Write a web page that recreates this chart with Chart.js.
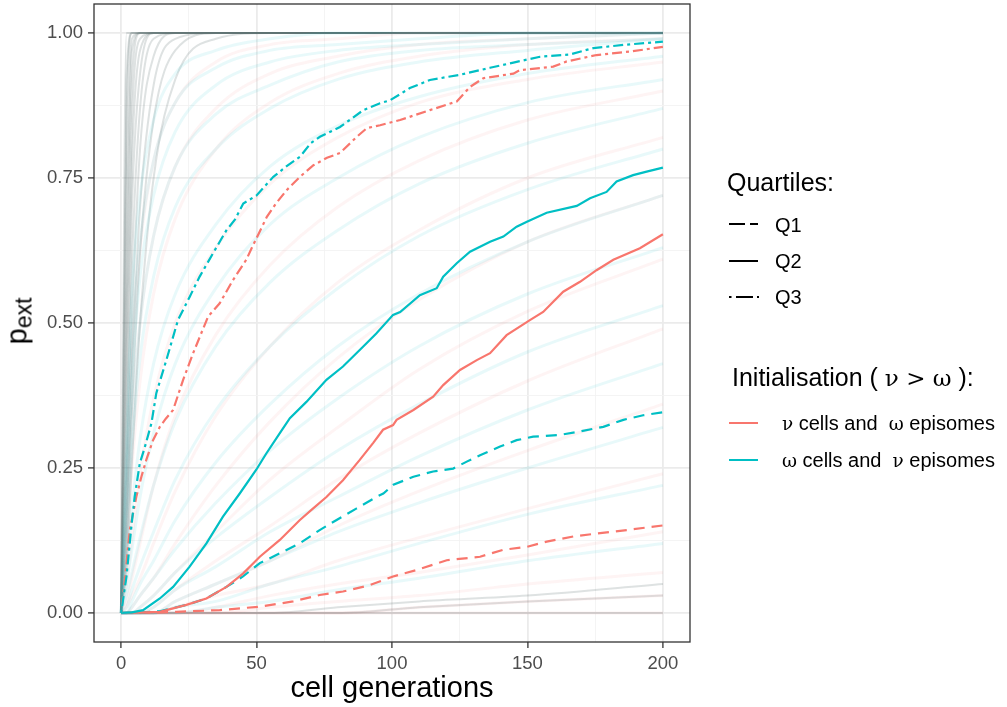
<!DOCTYPE html>
<html>
<head>
<meta charset="utf-8">
<script src="https://cdn.jsdelivr.net/npm/chart.js@4.4.1/dist/chart.umd.min.js"></script>
<style>
body { margin: 0; background: #fff; }
#wrap { position: relative; width: 1007px; height: 707px; font-family: "Liberation Sans", Arial, sans-serif; color: #000; }
#wrap canvas { position: absolute; left: 0; top: 0; }
.lab { position: absolute; white-space: nowrap; line-height: 1; }
.gr { font-family: "DejaVu Serif", "Liberation Serif", serif; font-size: 0.92em; }
svg.key { position: absolute; overflow: visible; }
</style>
</head>
<body>
<div id="wrap">
  <canvas id="chart" width="1007" height="707"></canvas>

  <div class="lab" style="left:392px;top:673px;font-size:29px;transform:translateX(-50%)">cell generations</div>
  <div class="lab" style="left:17px;top:321px;font-size:29px;transform:translate(-50%,-50%) rotate(-90deg)">p<span style="font-size:23px;position:relative;top:5px">ext</span></div>

  <div class="lab" style="left:727px;top:170px;font-size:25px">Quartiles:</div>
  <svg class="key" style="left:729px;top:214px" width="30" height="20"><g stroke="#000" stroke-width="2"><line x1="0" y1="10" x2="16" y2="10"/><line x1="21" y1="10" x2="29" y2="10"/></g></svg>
  <div class="lab" style="left:775px;top:215px;font-size:20px">Q1</div>
  <svg class="key" style="left:729px;top:251px" width="30" height="20"><line x1="0" y1="10" x2="29" y2="10" stroke="#000" stroke-width="2"/></svg>
  <div class="lab" style="left:775px;top:251px;font-size:20px">Q2</div>
  <svg class="key" style="left:729px;top:287px" width="30" height="20"><g stroke="#000" stroke-width="2"><line x1="0" y1="10" x2="2.5" y2="10"/><line x1="7" y1="10" x2="24" y2="10"/><line x1="28" y1="10" x2="30" y2="10"/></g></svg>
  <div class="lab" style="left:775px;top:287px;font-size:20px">Q3</div>

  <div class="lab" style="left:732px;top:365px;font-size:25px">Initialisation ( <span class="gr">ν &gt; ω</span> ):</div>
  <svg class="key" style="left:729px;top:413px" width="30" height="20"><line x1="0" y1="10" x2="29" y2="10" stroke="#F8766D" stroke-width="2"/></svg>
  <div class="lab" style="left:782px;top:413px;font-size:20px"><span class="gr">ν</span> cells and &nbsp;<span class="gr">ω</span> episomes</div>
  <svg class="key" style="left:729px;top:450px" width="30" height="20"><line x1="0" y1="10" x2="29" y2="10" stroke="#00BFC4" stroke-width="2"/></svg>
  <div class="lab" style="left:782px;top:450px;font-size:20px"><span class="gr">ω</span> cells and &nbsp;<span class="gr">ν</span> episomes</div>
</div>

<script>
var red = "#F8766D";
var cyan = "#00BFC4";

// quartiles of p_ext (x = cell generations)
var cyanQ3X = [0, 2, 3.8, 5, 6.9, 8.7, 11.2, 13, 16.7, 21, 25.3, 29, 33.9, 38.9, 42, 45.1, 50, 56.2, 61, 66.1, 70, 73.4, 80.8, 85, 89.4, 95.6, 99.3, 106.6, 114, 125.1, 136.2, 144.8, 154.6, 165.7, 174.3, 186.6, 200];
var cyanQ3Y = [0, 0.063, 0.149, 0.2, 0.258, 0.285, 0.327, 0.379, 0.436, 0.505, 0.545, 0.58, 0.62, 0.66, 0.678, 0.706, 0.72, 0.752, 0.77, 0.787, 0.81, 0.821, 0.838, 0.852, 0.867, 0.879, 0.884, 0.905, 0.919, 0.928, 0.94, 0.949, 0.959, 0.963, 0.974, 0.98, 0.985];

var redQ3X = [0, 1.4, 3.2, 5.6, 7.5, 9.3, 11.8, 14.3, 16.5, 19.2, 22.9, 26.6, 32.1, 36.4, 41.3, 46.2, 48.7, 53.8, 57, 61.1, 66, 71, 76, 80.8, 87, 90.7, 95.6, 98, 103, 114, 123.9, 128.8, 133.7, 144.8, 147.2, 159.5, 164.5, 175.5, 187.8, 200];
var redQ3Y = [0, 0.057, 0.143, 0.2, 0.235, 0.264, 0.298, 0.321, 0.335, 0.35, 0.402, 0.448, 0.511, 0.534, 0.574, 0.609, 0.634, 0.683, 0.705, 0.729, 0.752, 0.772, 0.785, 0.793, 0.821, 0.836, 0.841, 0.844, 0.85, 0.867, 0.882, 0.907, 0.922, 0.93, 0.936, 0.942, 0.951, 0.962, 0.968, 0.976];

var cyanQ2X = [0, 4, 8.1, 14.3, 19.2, 25.3, 31.5, 37.6, 43.8, 49.9, 53.6, 58.6, 62.3, 68.4, 75.8, 81.9, 89.3, 94.2, 100.4, 103, 110.3, 116.5, 118.9, 123.9, 128.8, 136.2, 141.1, 146, 150, 157.1, 168.2, 173.1, 179.2, 182.9, 189, 194, 200];
var cyanQ2Y = [0, 0.001, 0.005, 0.025, 0.045, 0.08, 0.12, 0.166, 0.206, 0.247, 0.275, 0.31, 0.336, 0.364, 0.402, 0.425, 0.459, 0.482, 0.514, 0.519, 0.548, 0.56, 0.58, 0.603, 0.623, 0.64, 0.649, 0.666, 0.675, 0.69, 0.702, 0.715, 0.726, 0.744, 0.755, 0.761, 0.768];

var redQ2X = [0, 8, 14.3, 24.1, 31.5, 38.9, 45, 51.2, 58.6, 65.9, 70.8, 75.8, 81.9, 88.1, 93, 96.7, 100.4, 101.7, 107.9, 115.2, 118.9, 125.1, 131.3, 136.2, 142.3, 150.9, 155.8, 163.2, 169.4, 175.5, 181.7, 191.5, 200];
var redQ2Y = [0, 0.001, 0.002, 0.014, 0.025, 0.045, 0.068, 0.097, 0.126, 0.16, 0.18, 0.2, 0.229, 0.264, 0.293, 0.316, 0.324, 0.333, 0.35, 0.373, 0.393, 0.419, 0.436, 0.448, 0.479, 0.505, 0.519, 0.554, 0.571, 0.591, 0.609, 0.629, 0.653];

var cyanQ1X = [0, 8, 14.3, 24.1, 31.5, 38.9, 45, 51.2, 58.6, 65.9, 73.3, 79.4, 86.8, 94.2, 96.8, 100.5, 107.9, 115.2, 122.6, 127.6, 132.5, 139.9, 146, 152.1, 162, 169.4, 178, 185.4, 192.7, 200];
var cyanQ1Y = [0, 0.001, 0.003, 0.014, 0.025, 0.045, 0.063, 0.086, 0.103, 0.12, 0.143, 0.16, 0.18, 0.2, 0.206, 0.221, 0.235, 0.244, 0.249, 0.261, 0.272, 0.287, 0.298, 0.304, 0.307, 0.313, 0.321, 0.333, 0.341, 0.346];

var redQ1X = [0, 10, 20.4, 36.4, 51.2, 63.5, 73.3, 81.9, 91.8, 100.4, 109.1, 120.2, 132.5, 141.1, 149.7, 157.1, 166.9, 175.5, 186.6, 200];
var redQ1Y = [0, 0, 0.002, 0.005, 0.011, 0.02, 0.031, 0.037, 0.048, 0.063, 0.074, 0.091, 0.097, 0.109, 0.114, 0.123, 0.132, 0.137, 0.143, 0.151];

// a sample of the faint individual simulation runs behind the quartiles
var bgX = [0, 2, 4, 7, 12, 20, 35, 55, 80, 110, 150, 200];
var bgGrey = [
  [0, 1, 1, 1, 1, 1, 1, 1, 1, 1, 1, 1],
  [0, 0.92, 1, 1, 1, 1, 1, 1, 1, 1, 1, 1],
  [0, 0.85, 1, 1, 1, 1, 1, 1, 1, 1, 1, 1],
  [0, 0.72, 0.99, 1, 1, 1, 1, 1, 1, 1, 1, 1],
  [0, 0.6, 0.97, 1, 1, 1, 1, 1, 1, 1, 1, 1],
  [0, 0.52, 0.92, 1, 1, 1, 1, 1, 1, 1, 1, 1],
  [0, 0.45, 0.85, 0.99, 1, 1, 1, 1, 1, 1, 1, 1],
  [0, 0.38, 0.78, 0.97, 1, 1, 1, 1, 1, 1, 1, 1],
  [0, 0.3, 0.7, 0.93, 1, 1, 1, 1, 1, 1, 1, 1],
  [0, 0.25, 0.6, 0.87, 0.99, 1, 1, 1, 1, 1, 1, 1],
  [0, 0.2, 0.5, 0.8, 0.96, 1, 1, 1, 1, 1, 1, 1],
  [0, 0.16, 0.42, 0.7, 0.91, 0.99, 1, 1, 1, 1, 1, 1],
  [0, 0.12, 0.35, 0.62, 0.85, 0.97, 1, 1, 1, 1, 1, 1],
  [0, 0.08, 0.26, 0.5, 0.75, 0.92, 0.99, 1, 1, 1, 1, 1],
  [0, 0, 0, 0, 0, 0, 0, 0, 0.01, 0.02, 0.03, 0.05],
  [0, 0, 0, 0, 0, 0, 0, 0, 0, 0.01, 0.02, 0.03],
  [0, 0, 0, 0, 0, 0, 0, 0, 0, 0, 0, 0]
];
var bgCyan = [
  [0, 0.3, 0.55, 0.72, 0.85, 0.93, 0.97, 0.99, 1, 1, 1, 1],
  [0, 0.24, 0.46, 0.64, 0.78, 0.88, 0.94, 0.97, 0.98, 0.99, 1, 1],
  [0, 0.2, 0.4, 0.58, 0.72, 0.83, 0.91, 0.95, 0.97, 0.98, 0.99, 1],
  [0, 0.15, 0.33, 0.5, 0.65, 0.77, 0.86, 0.91, 0.95, 0.97, 0.98, 0.99],
  [0, 0.12, 0.28, 0.44, 0.58, 0.7, 0.8, 0.87, 0.92, 0.95, 0.97, 0.99],
  [0, 0.08, 0.18, 0.3, 0.43, 0.55, 0.67, 0.77, 0.84, 0.89, 0.93, 0.96],
  [0, 0.05, 0.11, 0.2, 0.31, 0.43, 0.56, 0.67, 0.75, 0.82, 0.88, 0.92],
  [0, 0.03, 0.07, 0.13, 0.22, 0.33, 0.46, 0.57, 0.66, 0.74, 0.81, 0.87],
  [0, 0.01, 0.04, 0.08, 0.14, 0.23, 0.35, 0.46, 0.56, 0.65, 0.73, 0.8],
  [0, 0, 0.02, 0.05, 0.09, 0.16, 0.26, 0.36, 0.46, 0.55, 0.64, 0.72],
  [0, 0, 0.01, 0.03, 0.06, 0.11, 0.19, 0.28, 0.37, 0.46, 0.55, 0.63],
  [0, 0, 0, 0.01, 0.03, 0.07, 0.13, 0.2, 0.28, 0.36, 0.45, 0.53],
  [0, 0, 0, 0, 0.01, 0.04, 0.08, 0.14, 0.2, 0.27, 0.35, 0.43],
  [0, 0, 0, 0, 0, 0.02, 0.05, 0.09, 0.14, 0.19, 0.25, 0.32],
  [0, 0, 0, 0, 0, 0.01, 0.02, 0.05, 0.08, 0.12, 0.17, 0.22],
  [0, 0, 0, 0, 0, 0, 0.01, 0.02, 0.04, 0.06, 0.09, 0.12]
];
var bgRed = [
  [0, 0.2, 0.45, 0.63, 0.78, 0.88, 0.95, 0.98, 0.99, 1, 1, 1],
  [0, 0.14, 0.33, 0.5, 0.65, 0.77, 0.87, 0.93, 0.96, 0.98, 0.99, 1],
  [0, 0.1, 0.25, 0.4, 0.55, 0.68, 0.8, 0.88, 0.93, 0.96, 0.98, 0.99],
  [0, 0.05, 0.13, 0.24, 0.37, 0.5, 0.63, 0.74, 0.82, 0.88, 0.92, 0.95],
  [0, 0.02, 0.06, 0.12, 0.22, 0.34, 0.48, 0.6, 0.7, 0.78, 0.85, 0.9],
  [0, 0.01, 0.03, 0.06, 0.12, 0.21, 0.34, 0.46, 0.57, 0.66, 0.75, 0.82],
  [0, 0, 0.01, 0.03, 0.06, 0.12, 0.22, 0.33, 0.44, 0.54, 0.64, 0.72],
  [0, 0, 0, 0.01, 0.03, 0.07, 0.14, 0.23, 0.32, 0.42, 0.52, 0.61],
  [0, 0, 0, 0, 0.01, 0.04, 0.09, 0.15, 0.23, 0.31, 0.4, 0.49],
  [0, 0, 0, 0, 0, 0.02, 0.05, 0.09, 0.15, 0.21, 0.28, 0.36],
  [0, 0, 0, 0, 0, 0.01, 0.03, 0.05, 0.09, 0.13, 0.18, 0.24],
  [0, 0, 0, 0, 0, 0, 0.01, 0.03, 0.05, 0.07, 0.1, 0.14],
  [0, 0, 0, 0, 0, 0, 0, 0.01, 0.02, 0.03, 0.05, 0.07],
  [0, 0, 0, 0, 0, 0, 0, 0, 0, 0.01, 0.02, 0.03],
  [0, 0, 0, 0, 0, 0, 0, 0, 0, 0, 0, 0]
];

var xTicks = [0, 25, 50, 75, 100, 125, 150, 175, 200];
var yTicks = [0, 0.125, 0.25, 0.375, 0.5, 0.625, 0.75, 0.875, 1];

var dashed = [11, 7];
var dashDot = [3, 4, 10, 4];
var fontFamily = '"Liberation Sans", Arial, sans-serif';

function pts(xs, ys) {
  return xs.map(function (x, i) { return {x: x, y: ys[i]}; });
}

function quart(xs, ys, color, dash) {
  return {data: pts(xs, ys), borderColor: color, borderWidth: 2.2, borderDash: dash,
    borderCapStyle: "butt", pointRadius: 0, tension: 0, fill: false};
}

function faint(ys, color, width) {
  return {data: pts(bgX, ys), borderColor: color, borderWidth: width, pointRadius: 0,
    cubicInterpolationMode: "monotone", fill: false};
}

// first dataset is drawn on top
var datasets = [
  quart(cyanQ3X, cyanQ3Y, cyan, dashDot),
  quart(redQ3X, redQ3Y, red, dashDot),
  quart(cyanQ2X, cyanQ2Y, cyan, []),
  quart(redQ2X, redQ2Y, red, []),
  quart(cyanQ1X, cyanQ1Y, cyan, dashed),
  quart(redQ1X, redQ1Y, red, dashed)
];
bgCyan.forEach(function (ys) { datasets.push(faint(ys, "rgba(0,191,196,0.09)", 3)); });
bgRed.forEach(function (ys) { datasets.push(faint(ys, "rgba(248,118,109,0.08)", 3)); });
bgGrey.forEach(function (ys) { datasets.push(faint(ys, "rgba(90,112,112,0.2)", 2)); });

function isMajor(v, step) {
  return Math.abs(v / step - Math.round(v / step)) < 1e-9;
}

function axis(min, max, ticks, step, fmt, fit) {
  return {
    type: "linear", min: min, max: max,
    afterBuildTicks: function (s) { s.ticks = ticks.map(function (v) { return {value: v}; }); },
    afterFit: function (s) {
      fit(s);
      s.paddingTop = 0; s.paddingBottom = 0; s.paddingLeft = 0; s.paddingRight = 0;
    },
    ticks: {
      autoSkip: false, maxRotation: 0, color: "#4D4D4D", padding: 5,
      font: {family: fontFamily, size: 18.5},
      callback: function (v) { return isMajor(v, step) ? fmt(v) : ""; }
    },
    grid: {
      color: function (c) { return c.tick && isMajor(c.tick.value, step) ? "#EBEBEB" : "#F3F3F3"; },
      lineWidth: function (c) { return c.tick && isMajor(c.tick.value, step) ? 1.8 : 0.9; },
      tickLength: 6,
      tickWidth: 1.3,
      tickColor: function (c) { return c.tick && isMajor(c.tick.value, step) ? "#333333" : "rgba(0,0,0,0)"; }
    },
    border: {display: false}
  };
}

var frame = {
  id: "frame",
  afterDatasetsDraw: function (chart) {
    var a = chart.chartArea, c = chart.ctx;
    c.save();
    c.strokeStyle = "#333333";
    c.lineWidth = 1.3;
    c.strokeRect(a.left, a.top, a.right - a.left, a.bottom - a.top);
    c.restore();
  }
};

new Chart("chart", {
  type: "line",
  data: {datasets: datasets},
  options: {
    responsive: false,
    animation: false,
    events: [],
    layout: {padding: {left: 0, top: 4, right: 317, bottom: 0}},
    plugins: {legend: {display: false}, tooltip: {enabled: false}},
    scales: {
      x: axis(-10, 210, xTicks, 50, function (v) { return String(v); }, function (s) { s.height = 65; }),
      y: axis(-0.05, 1.05, yTicks, 0.25, function (v) { return v.toFixed(2); }, function (s) { s.width = 94; })
    }
  },
  plugins: [frame]
});
</script>
</body>
</html>
